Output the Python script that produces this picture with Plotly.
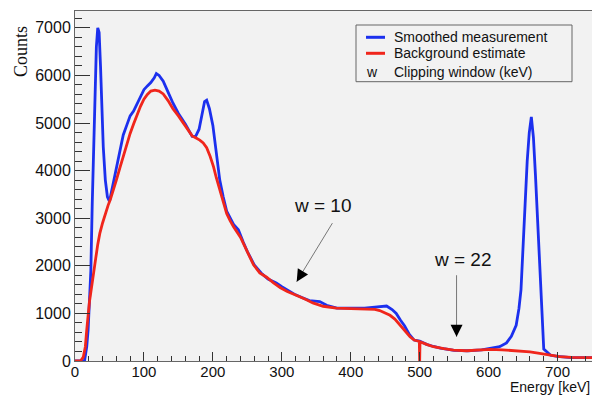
import plotly.graph_objects as go

# ---- data ----
meas_energy = [0, 10, 14, 17, 19, 21, 23, 25, 27, 29, 31, 33, 35, 37, 39, 41, 44, 47, 50, 55,
               60, 65, 70, 75, 80, 85, 90, 95, 100, 105, 110, 115, 118, 122, 128, 135, 142, 150,
               160, 170, 175, 180, 185, 188, 191, 195, 200, 205, 210, 215, 220, 230, 237, 244,
               250, 260, 270, 280, 292, 300, 310, 320, 330, 340, 355, 365, 380, 400, 420, 435,
               445, 452, 460, 466, 472, 478, 485, 492, 500, 510, 520, 530, 550, 570, 590, 605,
               616, 626, 633, 640, 644, 647, 650, 653, 656, 659, 662, 665, 668, 671, 674, 677,
               680, 690, 700, 720, 750]
meas_counts = [0, 0, 20, 300, 650, 1200, 1900, 3300, 4600, 5800, 6600, 7000, 6900, 6200, 5300,
               4500, 3800, 3450, 3350, 3700, 4050, 4430, 4750, 4950, 5150, 5250, 5400, 5550,
               5700, 5780, 5850, 5950, 6040, 6000, 5880, 5650, 5420, 5200, 4980, 4720, 4720,
               4870, 5250, 5450, 5480, 5300, 4950, 4350, 3800, 3450, 3150, 2870, 2760, 2500,
               2300, 2020, 1850, 1720, 1640, 1560, 1470, 1390, 1330, 1270, 1250, 1170, 1110,
               1110, 1110, 1130, 1150, 1155, 1080, 1000, 860, 740, 560, 440, 420, 350, 305, 270,
               225, 215, 235, 270, 300, 380, 520, 750, 1100, 1500, 2300, 3300, 4200, 4800, 5130,
               4700, 3900, 2900, 1980, 900, 250, 120, 95, 70, 70]

bkg_energy = [0, 8, 12, 15, 17, 19, 21, 24, 27, 30, 33, 36, 40, 44, 48, 51, 55, 60, 65, 70, 75,
              80, 85, 90, 95, 100, 105, 110, 116, 122, 128, 135, 142, 150, 160, 170, 175, 181,
              186, 191, 196, 201, 205, 210, 215, 220, 225, 230, 240, 249, 259, 268, 278, 288,
              298, 308, 317, 326, 335, 345, 360, 379, 400, 423, 435, 442, 450, 457, 464, 471,
              478, 486, 492, 499.5, 500, 500.5, 510, 520, 535, 549, 568, 585, 602, 620, 645,
              660, 674, 690, 703, 720, 750]
bkg_counts = [0, 0, 80, 300, 650, 1000, 1250, 1550, 1900, 2150, 2450, 2680, 2900, 3100, 3270,
              3380, 3550, 3800, 4050, 4300, 4550, 4780, 4980, 5180, 5350, 5500, 5600, 5670,
              5690, 5670, 5610, 5470, 5300, 5150, 4950, 4730, 4690, 4640, 4580, 4480, 4300,
              4080, 3850, 3590, 3330, 3100, 2950, 2820, 2600, 2330, 2020, 1850, 1760, 1640,
              1540, 1460, 1410, 1350, 1290, 1220, 1150, 1110, 1100, 1100, 1085, 1060, 1010,
              960, 880, 760, 640, 510, 440, 410, 0, 405, 350, 300, 260, 230, 215, 225, 245,
              235, 215, 190, 160, 115, 90, 75, 70]

x_tick_vals = [0, 100, 200, 300, 400, 500, 600, 700]
y_tick_vals = [0, 1000, 2000, 3000, 4000, 5000, 6000, 7000]

legend_labels = ["Smoothed measurement", "Background estimate", "Clipping window (keV)"]
annot_labels = ["w = 10", "w = 22"]
annot_points = [(321.6, 1667), (553.5, 510)]

BLUE = "rgb(28,48,238)"
RED = "rgb(240,38,28)"
SANS = "Liberation Sans, Arial, sans-serif"

fig = go.Figure()
fig.add_trace(go.Scatter(x=meas_energy, y=meas_counts, mode="lines",
                         line=dict(color=BLUE, width=2.8), showlegend=False))
fig.add_trace(go.Scatter(x=bkg_energy, y=bkg_counts, mode="lines",
                         line=dict(color=RED, width=2.8), showlegend=False))

# pixel -> paper helpers (plot area: x 75..592, y 11..361)
def px(x):
    return (x - 75) / 517.0
def py(y):
    return (361 - y) / 350.0

shapes = []
annotations = []

# legend box
shapes.append(dict(type="rect", xref="paper", yref="paper",
                   x0=px(356), x1=px(572), y0=py(81.7), y1=py(25),
                   line=dict(color="#666666", width=1), fillcolor="rgba(0,0,0,0)"))
rows = [37.3, 53.3, 71.7]
for yy, col in zip(rows[:2], [BLUE, RED]):
    shapes.append(dict(type="line", xref="paper", yref="paper",
                       x0=px(366), x1=px(385), y0=py(yy), y1=py(yy),
                       line=dict(color=col, width=3)))
for yy, lab in zip(rows, legend_labels):
    annotations.append(dict(xref="paper", yref="paper", x=px(392), y=py(yy),
                            xanchor="left", yanchor="middle", showarrow=False,
                            text=lab, font=dict(family=SANS, size=14, color="#111")))
annotations.append(dict(xref="paper", yref="paper", x=px(372), y=py(rows[2]),
                        xanchor="center", yanchor="middle", showarrow=False,
                        text="w", font=dict(family=SANS, size=14, color="#111")))

# arrow annotations
# w = 10
annotations.append(dict(xref="paper", yref="paper", x=px(323), y=py(205),
                        xanchor="center", yanchor="middle", showarrow=False,
                        text=annot_labels[0], font=dict(family=SANS, size=19, color="#111")))
annotations.append(dict(x=annot_points[0][0], y=annot_points[0][1], text="", showarrow=True,
                        ax=36.6, ay=-60, arrowhead=0, arrowwidth=1, arrowcolor="#777777"))
annotations.append(dict(x=annot_points[0][0], y=annot_points[0][1], text="", showarrow=True,
                        ax=36.6 * 0.12, ay=-60 * 0.12, arrowhead=2, arrowsize=1.6,
                        arrowwidth=1.5, arrowcolor="#000000"))
# w = 22
annotations.append(dict(xref="paper", yref="paper", x=px(463), y=py(259.5),
                        xanchor="center", yanchor="middle", showarrow=False,
                        text=annot_labels[1], font=dict(family=SANS, size=19, color="#111")))
annotations.append(dict(x=annot_points[1][0], y=annot_points[1][1], text="", showarrow=True,
                        ax=0, ay=-63, arrowhead=0, arrowwidth=1, arrowcolor="#777777"))
annotations.append(dict(x=annot_points[1][0], y=annot_points[1][1], text="", showarrow=True,
                        ax=0, ay=-8, arrowhead=2, arrowsize=1.6,
                        arrowwidth=1.5, arrowcolor="#000000"))

# axis titles
annotations.append(dict(xref="paper", yref="paper", x=1.0, y=py(387),
                        xanchor="right", yanchor="middle", showarrow=False,
                        text="Energy [keV]", font=dict(family=SANS, size=14, color="#111")))
annotations.append(dict(xref="paper", yref="paper", x=px(21), y=py(52),
                        xanchor="center", yanchor="middle", showarrow=False, textangle=-90,
                        text="Counts", font=dict(family="Liberation Serif, Times New Roman, serif",
                                                 size=18, color="#111")))

fig.update_layout(
    width=592, height=396,
    margin=dict(l=75, r=0, t=11, b=35),
    paper_bgcolor="white", plot_bgcolor="#f2f2f2",
    shapes=shapes, annotations=annotations, showlegend=False,
    xaxis=dict(range=[0, 750], tickvals=x_tick_vals, ticks="inside", ticklen=9, tickwidth=1,
               tickcolor="#333", showgrid=False, zeroline=False, showline=True,
               linecolor="#666", linewidth=1, mirror=True, ticklabelstandoff=-3,
               tickfont=dict(family=SANS, size=15, color="#111"),
               minor=dict(dtick=20, ticks="inside", ticklen=5, tickcolor="#333", showgrid=False)),
    yaxis=dict(range=[0, 7353], tickvals=y_tick_vals, ticks="inside", ticklen=15, tickwidth=1,
               tickcolor="#333", showgrid=False, zeroline=False, showline=True,
               linecolor="#666", linewidth=1, mirror=True,
               tickfont=dict(family=SANS, size=16, color="#111"),
               minor=dict(dtick=200, ticks="inside", ticklen=7, tickcolor="#333", showgrid=False)),
)

fig.write_html("out.html")
